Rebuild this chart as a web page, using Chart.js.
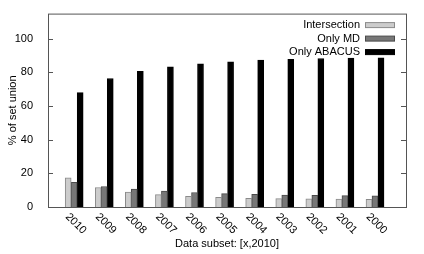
<!DOCTYPE html>
<html>
<head>
<meta charset="utf-8">
<script src="https://cdn.jsdelivr.net/npm/chart.js@4"></script>
<style>
  html, body { margin: 0; padding: 0; background: #fff; }
  #wrap { width: 424px; height: 254px; }
</style>
</head>
<body>
<div id="wrap"><canvas id="chart" width="424" height="254"></canvas></div>
<script>
// data
const years = ['2010', '2009', '2008', '2007', '2006', '2005', '2004', '2003', '2002', '2001', '2000'];
const intersection = [17.4, 11.6, 8.8, 7.4, 6.4, 5.8, 5.2, 5.0, 4.8, 4.7, 4.6];
const onlyMD = [14.6, 12.2, 10.6, 9.4, 8.6, 8.0, 7.5, 7.1, 6.9, 6.8, 6.7];
const onlyAbacus = [68.0, 76.4, 80.7, 83.3, 85.1, 86.3, 87.3, 87.8, 88.3, 88.5, 88.7];
const yTicks = [0, 20, 40, 60, 80, 100];

const FONT = 'Liberation Sans, Arial, Helvetica, sans-serif';
const toXY = arr => arr.map((v, i) => ({ x: i, y: v }));

// gnuplot-ish frame: border, inward ticks on both sides, rotated year labels, legend
const framePlugin = {
  id: 'frame',
  afterDraw(chart) {
    const ctx = chart.ctx;
    const a = chart.chartArea;
    const xs = chart.scales.x, ys = chart.scales.y;
    ctx.save();
    ctx.strokeStyle = '#555';
    ctx.lineWidth = 1;
    ctx.strokeRect(a.left + 0.5, a.top + 0.5, a.right - a.left, a.bottom - a.top);
    ctx.beginPath();
    yTicks.forEach(t => {
      const y = Math.round(ys.getPixelForValue(t)) + 0.5;
      ctx.moveTo(a.left, y); ctx.lineTo(a.left + 5, y);
      ctx.moveTo(a.right, y); ctx.lineTo(a.right - 5, y);
    });
    ctx.stroke();

    // year labels, rotated clockwise
    ctx.fillStyle = '#000';
    ctx.font = '11px ' + FONT;
    ctx.textAlign = 'left';
    ctx.textBaseline = 'middle';
    years.forEach((lab, i) => {
      const x = xs.getPixelForValue(i);
      ctx.save();
      ctx.translate(x - 7, a.bottom + 8);
      ctx.rotate(Math.PI / 4);
      ctx.fillText(lab, 0, 0);
      ctx.restore();
    });

    // legend, text left of the sample box
    const right = a.right - 11;
    chart.data.datasets.forEach((ds, i) => {
      const cy = a.top + 11.5 + i * 13.5;
      ctx.fillStyle = ds.backgroundColor;
      ctx.fillRect(right - 30, cy - 2.5, 30, 5);
      ctx.strokeStyle = ds.borderColor;
      ctx.strokeRect(right - 30 + 0.5, cy - 2.5, 29, 5);
      ctx.fillStyle = '#000';
      ctx.textAlign = 'right';
      ctx.fillText(ds.label, right - 35, cy);
    });
    ctx.restore();
  }
};

const barDefaults = { barThickness: 6, borderWidth: 1, grouped: true };

new Chart(document.getElementById('chart').getContext('2d'), {
  type: 'bar',
  data: {
    datasets: [
      Object.assign({ label: 'Intersection', data: toXY(intersection), backgroundColor: '#cccccc', borderColor: '#8a8a8a' }, barDefaults),
      Object.assign({ label: 'Only MD', data: toXY(onlyMD), backgroundColor: '#777777', borderColor: '#4a4a4a' }, barDefaults),
      Object.assign({ label: 'Only ABACUS', data: toXY(onlyAbacus), backgroundColor: '#000000', borderColor: '#000000' }, barDefaults)
    ]
  },
  options: {
    responsive: false,
    animation: false,
    layout: { padding: { top: 13, right: 18, left: 0, bottom: 0 } },
    plugins: {
      legend: { display: false },
      tooltip: { enabled: false }
    },
    scales: {
      x: {
        type: 'linear',
        min: -0.87,
        max: 11.03,
        offset: false,
        grid: { display: false },
        border: { display: false },
        ticks: { display: false },
        afterBuildTicks: s => { s.ticks = years.map((y, i) => ({ value: i })); },
        afterFit: s => { s.height = 47; },
        title: {
          display: true,
          text: 'Data subset: [x,2010]',
          color: '#000',
          font: { family: FONT, size: 11 },
          padding: { top: 0, bottom: 3 }
        }
      },
      y: {
        min: 0,
        max: 115,
        grid: { display: false },
        border: { display: false },
        afterBuildTicks: s => { s.ticks = yTicks.map(v => ({ value: v })); },
        afterFit: s => { s.width = 48; },
        ticks: {
          color: '#000',
          padding: 7,
          font: { family: FONT, size: 11 }
        },
        title: {
          display: true,
          text: '% of set union',
          color: '#000',
          font: { family: FONT, size: 11 },
          padding: { top: 6, bottom: 0 }
        }
      }
    }
  },
  plugins: [framePlugin]
});
</script>
</body>
</html>
